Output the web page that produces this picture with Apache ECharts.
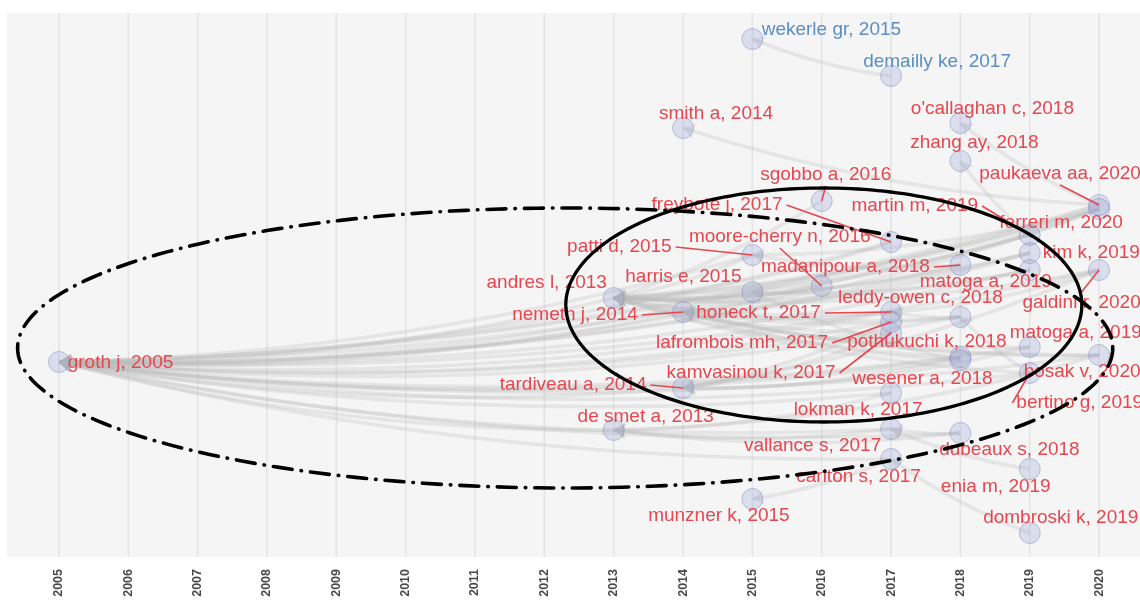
<!DOCTYPE html>
<html><head><meta charset="utf-8">
<script src="https://cdn.jsdelivr.net/npm/echarts@6/dist/echarts.min.js"></script>
<style>html,body{margin:0;padding:0;background:#fff}#c{width:1140px;height:601px}</style>
</head><body><div id="c"></div>
<script>
// ---------- DATA ----------
const yearTicks = [2005,2006,2007,2008,2009,2010,2011,2012,2013,2014,2015,2016,2017,2018,2019,2020];

const nodeNames = [
  "groth j, 2005","wekerle gr, 2015","demailly ke, 2017","smith a, 2014","o'callaghan c, 2018",
  "zhang ay, 2018","sgobbo a, 2016","paukaeva aa, 2020","ferreri m, 2020","freybote j, 2017",
  "martin m, 2019","moore-cherry n, 2016","patti d, 2015","kim k, 2019","madanipour a, 2018",
  "matoga a, 2019","galdini r, 2020","andres l, 2013","harris e, 2015","nemeth j, 2014",
  "honeck t, 2017","leddy-owen c, 2018","lafrombois mh, 2017","pothukuchi k, 2018","kamvasinou k, 2017",
  "matoga a, 2019","bosak v, 2020","wesener a, 2018","tardiveau a, 2014","bertino g, 2019",
  "lokman k, 2017","de smet a, 2013","dubeaux s, 2018","vallance s, 2017","carlton s, 2017",
  "enia m, 2019","munzner k, 2015","dombroski k, 2019"
];
const nodeYears = [
  2005,2015,2017,2014,2018, 2018,2016,2020,2020,2017,
  2019,2016,2015,2019,2018, 2019,2020,2013,2015,2014,
  2017,2018,2017,2018,2017, 2019,2020,2018,2014,2019,
  2017,2013,2018,2017,2017, 2019,2015,2019
];
// vertical layout position of each node (historiograph row value)
const nodeRows = [
  362,39,76,128,123, 161,201,205,209,242,
  235,286,255,253,265, 270,270,298,292,312,
  312,317,322,357,333, 347,355,360,388,373,
  393,430,433,429,459, 469,499,533
];
const nodeCluster = [
  1,2,2,1,1, 1,1,1,1,1,
  1,1,1,1,1, 1,1,1,1,1,
  1,1,1,1,1, 1,1,1,1,1,
  1,1,1,1,1, 1,1,1
];
// citing node -> cited node
const citations = [
  [2,1],
  [7,3],[7,4],[7,17],[7,0],
  [8,0],[8,17],[8,19],[8,18],[8,12],
  [16,0],[16,17],[16,28],[16,20],
  [26,0],[26,17],[26,19],[26,31],
  [10,5],[10,17],[10,0],
  [13,0],[13,17],[13,19],
  [15,0],[15,17],[15,18],
  [25,0],[25,19],[25,28],
  [29,21],[29,17],[29,0],
  [35,33],[37,34],
  [14,0],[14,17],[14,12],
  [21,0],[21,17],[21,19],[21,20],
  [23,0],[23,28],[23,17],
  [27,0],[27,19],[27,18],
  [32,0],[32,31],[32,33],
  [9,17],[9,0],
  [20,17],[20,19],[20,0],
  [22,0],[22,28],
  [24,0],[24,28],[24,17],
  [30,0],[30,31],
  [33,0],[33,31],
  [34,36],[34,0],
  [6,17],
  [11,0],[11,17],
  [12,0],[12,17],
  [18,17],[18,0],
  [19,0],[28,0],[17,0],[31,0]
];
// annotation ellipses: [centerYear, centerRow, radiusYears, radiusRows]
const ellipseDashDot = [2012.30, 348, 7.897, 140];
const ellipseSolid = [2016.03, 305, 3.721, 117];

// ---------- LAYOUT (label placement, pixels relative to node) ----------
const labelOffsets = [
  [61.5,1],[79,-9],[46,-14],[33,-14],[32,-14],
  [14,-18],[4,-26],[-39,-31],[-38,14],[-174,-37],
  [-115,-29],[-42,-49],[-133,-8],[61.5,0],[-115,2],
  [-44,12],[-17.5,33],[-67,-15],[-69,-15],[-108,3],
  [-132.5,1],[-40,-19],[-149,21],[-33.5,-15],[-140,40],
  [46,-14],[-17,17],[-38,19],[-110,-3],[50,30],
  [-33,17],[32,-13],[49,17],[-78.5,17],[-32.5,17.5],
  [-34,18],[-33.5,17],[31,-15]
];
const leaderIdx = [6,7,9,10,11,12,14,16,19,20,22,24,28,29];

const RED = '#E6474F', BLUE = '#5B8EC4';
const FONT = '19px "Liberation Sans", Arial, sans-serif';
const mctx = document.createElement('canvas').getContext('2d');
mctx.font = FONT;

const chart = echarts.init(document.getElementById('c'), null, {renderer:'canvas'});

const nodeData = nodeNames.map((n,i)=>[nodeYears[i], nodeRows[i], i]);

function ellipseItem(params, api, dash){
  const cx = api.value(0), cy = api.value(1), rx = api.value(2), ry = api.value(3);
  const pts = [];
  const N = 240;
  for (let k=0;k<=N;k++){
    const a = k/N*Math.PI*2;
    pts.push(api.coord([cx + rx*Math.cos(a), cy + ry*Math.sin(a)]));
  }
  return {type:'polyline', shape:{points:pts},
    style:{stroke:'#000', fill:null, lineWidth: dash?3.6:3.3, lineDash: dash?[19,9,0.5,9]:null, lineCap:'round'}};
}

const option = {
  animation:false,
  backgroundColor:'#ffffff',
  grid:{left:7,right:0,top:13,bottom:44,show:true,backgroundColor:'#f5f5f5',borderWidth:0,containLabel:false},
  xAxis:{type:'value',min:2004.25,max:2020.59,
    axisLine:{show:false},axisTick:{show:false},splitLine:{show:false},
    axisLabel:{customValues:yearTicks,rotate:90,fontSize:12.5,fontWeight:'bold',color:'#4a4a4a',
      margin:12,fontFamily:'"Liberation Sans", Arial, sans-serif',formatter:v=>String(v)}},
  yAxis:{type:'value',inverse:true,min:13,max:557,show:false},
  series:[
    { // vertical grid lines
      type:'custom', z:1, silent:true, clip:false,
      data: yearTicks.map(y=>[y,13]),
      encode:{x:0,y:1},
      renderItem:(params,api)=>{
        const p1 = api.coord([api.value(0),13]);
        const p2 = api.coord([api.value(0),557]);
        return {type:'line',shape:{x1:p1[0],y1:p1[1],x2:p2[0],y2:p2[1]},
          style:{stroke:'#e4e4e4',lineWidth:1.6}};
      }
    },
    { // citation edges
      type:'lines', coordinateSystem:'cartesian2d', z:2, silent:true,
      symbol:['none','arrow'], symbolSize:12,
      lineStyle:{color:'rgba(185,185,185,0.55)',width:3.6,curveness:0.065},
      data: citations.map(([s,t])=>({coords:[[nodeYears[s],nodeRows[s]],[nodeYears[t],nodeRows[t]]]}))
    },
    { // nodes
      type:'scatter', z:3, silent:true,
      symbol:'circle', symbolSize:21,
      itemStyle:{color:'rgba(145,155,210,0.33)',borderColor:'rgba(115,125,185,0.55)',borderWidth:1},
      data: nodeData
    },
    { // labels + leader lines
      type:'custom', z:5, silent:true, clip:false,
      data: nodeData, encode:{x:0,y:1},
      renderItem:(params,api)=>{
        const i = api.value(2);
        const p = api.coord([api.value(0),api.value(1)]);
        const off = labelOffsets[i];
        const cx = p[0]+off[0], cy = p[1]+off[1];
        const color = nodeCluster[i]===2 ? BLUE : RED;
        const children = [];
        if (leaderIdx.indexOf(i)>=0){
          const w = mctx.measureText(nodeNames[i]).width;
          const hw = w/2+4, hh = 11;
          const cands = [[cx+hw,cy],[cx-hw,cy],[cx,cy+hh],[cx,cy-hh]];
          let best = cands[0], bd = 1e9;
          cands.forEach(c=>{const d=Math.hypot(c[0]-p[0],c[1]-p[1]); if(d<bd){bd=d;best=c;}});
          children.push({type:'line',shape:{x1:best[0],y1:best[1],x2:p[0],y2:p[1]},
            style:{stroke:color,lineWidth:1.6}});
        }
        children.push({type:'text',x:cx,y:cy,
          style:{text:nodeNames[i],fill:color,font:FONT,align:'center',verticalAlign:'middle'}});
        return {type:'group',children};
      }
    },
    { // dash-dot ellipse
      type:'custom', z:6, silent:true, clip:false,
      data:[ellipseDashDot], encode:{x:0,y:1},
      renderItem:(params,api)=>ellipseItem(params,api,true)
    },
    { // solid ellipse
      type:'custom', z:6, silent:true, clip:false,
      data:[ellipseSolid], encode:{x:0,y:1},
      renderItem:(params,api)=>ellipseItem(params,api,false)
    }
  ]
};
chart.setOption(option);
</script>
</body></html>
